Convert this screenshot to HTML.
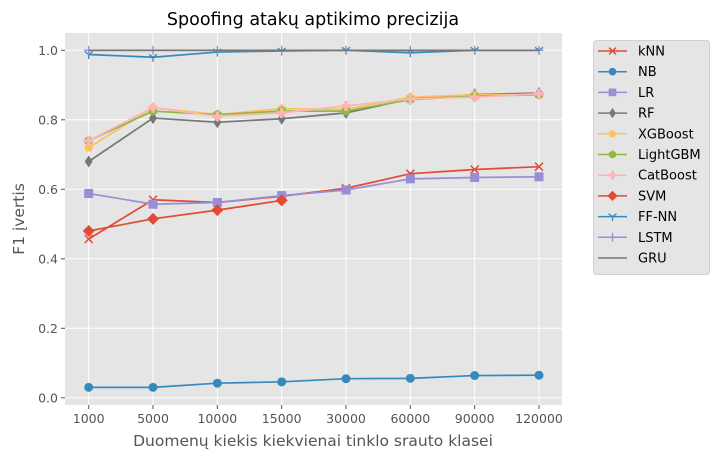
<!DOCTYPE html>
<html><head><meta charset="utf-8"><style>
body{margin:0;background:#fff;}
svg{display:block;font-family:"DejaVu Sans","Liberation Sans",sans-serif;}
</style></head><body>
<svg id="chart" width="720" height="460"></svg>
<script>
const categories=["1000","5000","10000","15000","30000","60000","90000","120000"];
const yTicks=[0.0,0.2,0.4,0.6,0.8,1.0];
const seriesNames=["kNN","NB","LR","RF","XGBoost","LightGBM","CatBoost","SVM","FF-NN","LSTM","GRU"];
const knnVals=[0.457,0.570,0.562,0.580,0.603,0.645,0.657,0.665];
const nbVals=[0.030,0.030,0.042,0.046,0.055,0.056,0.064,0.065];
const lrVals=[0.588,0.557,0.562,0.582,0.598,0.630,0.634,0.636];
const rfVals=[0.680,0.805,0.793,0.803,0.820,0.860,0.873,0.877];
const xgbVals=[0.720,0.835,0.815,0.832,0.830,0.865,0.872,0.873];
const lgbmVals=[0.740,0.825,0.815,0.825,0.825,0.858,0.868,0.872];
const catVals=[0.740,0.835,0.810,0.820,0.840,0.860,0.865,0.875];
const svmVals=[0.480,0.515,0.540,0.568];
const ffnnVals=[0.988,0.980,0.995,0.998,1.000,0.993,1.000,1.000];
const lstmVals=[1.000,1.000,1.000,1.000,1.000,1.000,1.000,1.000];
const gruVals=[1.000,1.000,1.000,1.000,1.000,1.000,1.000,1.000];
const allVals=[knnVals,nbVals,lrVals,rfVals,xgbVals,lgbmVals,catVals,svmVals,ffnnVals,lstmVals,gruVals];
const colors=["#E24A33","#348ABD","#988ED5","#777777","#FBC15E","#8EBA42","#FFB5B8","#E24A33","#348ABD","#988ED5","#777777"];
const markers=["x","o","s","d","p","h","P","D","1","+",""];

const NS="http://www.w3.org/2000/svg";
const svg=document.getElementById('chart');
function el(t,a,p){const e=document.createElementNS(NS,t);for(const k in a)e.setAttribute(k,a[k]);(p||svg).appendChild(e);return e;}
const L=65,R=562,T=33,B=405;
const xs=i=>88.7+i*(539-88.7)/(categories.length-1);
const ys=v=>397.8-v*(397.8-50.3);

const bg=el('rect',{x:L,y:T,width:R-L,height:B-T,fill:'#E5E5E5'});


yTicks.forEach(v=>{
  const g=el('line',{x1:L,x2:R,y1:ys(v),y2:ys(v),stroke:'#fff','stroke-width':1});
  
  
  el('line',{x1:L-4,x2:L,y1:ys(v),y2:ys(v),stroke:'#555'});
  const t=el('text',{x:L-7,y:ys(v)+4.5,'text-anchor':'end','font-size':12.5,fill:'#555'});
  t.textContent=v.toFixed(1);
  
  
});
categories.forEach((c,i)=>{
  const g=el('line',{x1:xs(i),x2:xs(i),y1:T,y2:B,stroke:'#fff','stroke-width':1});
  
  
  el('line',{x1:xs(i),x2:xs(i),y1:B,y2:B+4,stroke:'#555'});
  const t=el('text',{x:xs(i),y:B+18,'text-anchor':'middle','font-size':12.5,fill:'#555'});
  t.textContent=c;
  
  
});

function marker(g,m,x,y,c,s){
  s=s||1;
  if(m==='x'){el('path',{d:`M${x-4*s},${y-4*s}L${x+4*s},${y+4*s}M${x-4*s},${y+4*s}L${x+4*s},${y-4*s}`,stroke:c,'stroke-width':1.5,fill:'none'},g);}
  else if(m==='o'){el('circle',{cx:x,cy:y,r:4.5*s,fill:c},g);}
  else if(m==='s'){el('rect',{x:x-4.5*s,y:y-4.5*s,width:9*s,height:9*s,fill:c},g);}
  else if(m==='d'){el('path',{d:`M${x},${y-6*s}L${x+4*s},${y}L${x},${y+6*s}L${x-4*s},${y}Z`,fill:c},g);}
  else if(m==='D'){el('path',{d:`M${x},${y-6*s}L${x+6*s},${y}L${x},${y+6*s}L${x-6*s},${y}Z`,fill:c},g);}
  else if(m==='p'){let p='';for(let k=0;k<5;k++){const a=-Math.PI/2+k*2*Math.PI/5;p+=(k?'L':'M')+(x+4.8*s*Math.cos(a))+','+(y+4.8*s*Math.sin(a));}el('path',{d:p+'Z',fill:c},g);}
  else if(m==='h'){let p='';for(let k=0;k<6;k++){const a=-Math.PI/2+k*Math.PI/3;p+=(k?'L':'M')+(x+4.8*s*Math.cos(a))+','+(y+4.8*s*Math.sin(a));}el('path',{d:p+'Z',fill:c},g);}
  else if(m==='P'){el('path',{d:`M${x-1.7*s},${y-5*s}h${3.4*s}v${3.3*s}h${3.3*s}v${3.4*s}h${-3.3*s}v${3.3*s}h${-3.4*s}v${-3.3*s}h${-3.3*s}v${-3.4*s}h${3.3*s}Z`,fill:c},g);}
  else if(m==='1'){el('path',{d:`M${x},${y}L${x},${y+4.5}M${x},${y}L${x-4},${y-3}M${x},${y}L${x+4},${y-3}`,stroke:c,'stroke-width':1.3,fill:'none'},g);}
  else if(m==='+'){el('path',{d:`M${x-4.5},${y}L${x+4.5},${y}M${x},${y-4.5}L${x},${y+4.5}`,stroke:c,'stroke-width':1.3,fill:'none'},g);}
}

allVals.forEach((vals,si)=>{
  const g=el('g',{});
  
  
  el('polyline',{points:vals.map((v,i)=>xs(i)+','+ys(v)).join(' '),fill:'none',stroke:colors[si],'stroke-width':1.7},g);
  vals.forEach((v,i)=>marker(g,markers[si],xs(i),ys(v),colors[si]));
});

const title=el('text',{x:313,y:25,'text-anchor':'middle','font-size':17.5,fill:'#000'});
title.textContent='Spoofing atakų aptikimo precizija';


const xt=el('text',{x:313,y:446,'text-anchor':'middle','font-size':15.5,fill:'#555'});
xt.textContent='Duomenų kiekis kiekvienai tinklo srauto klasei';


const yt=el('text',{x:0,y:0,'text-anchor':'middle','font-size':15.5,fill:'#555',transform:'translate(24,219) rotate(-90)'});
yt.textContent='F1 įvertis';



const leg=el('g',{});


el('rect',{x:593.5,y:40.5,width:116,height:234,rx:3,fill:'#E5E5E5',stroke:'#d0d0d0'},leg);
seriesNames.forEach((n,i)=>{
  const y=51+i*20.7;
  const e=el('g',{},leg);
  
  
  el('line',{x1:598,x2:627,y1:y,y2:y,stroke:colors[i],'stroke-width':1.5},e);
  marker(e,markers[i],612.5,y,colors[i],0.85);
  const t=el('text',{x:638,y:y+4.5,'font-size':13,fill:'#000'},e);
  t.textContent=n;
});
</script>
</body></html>
